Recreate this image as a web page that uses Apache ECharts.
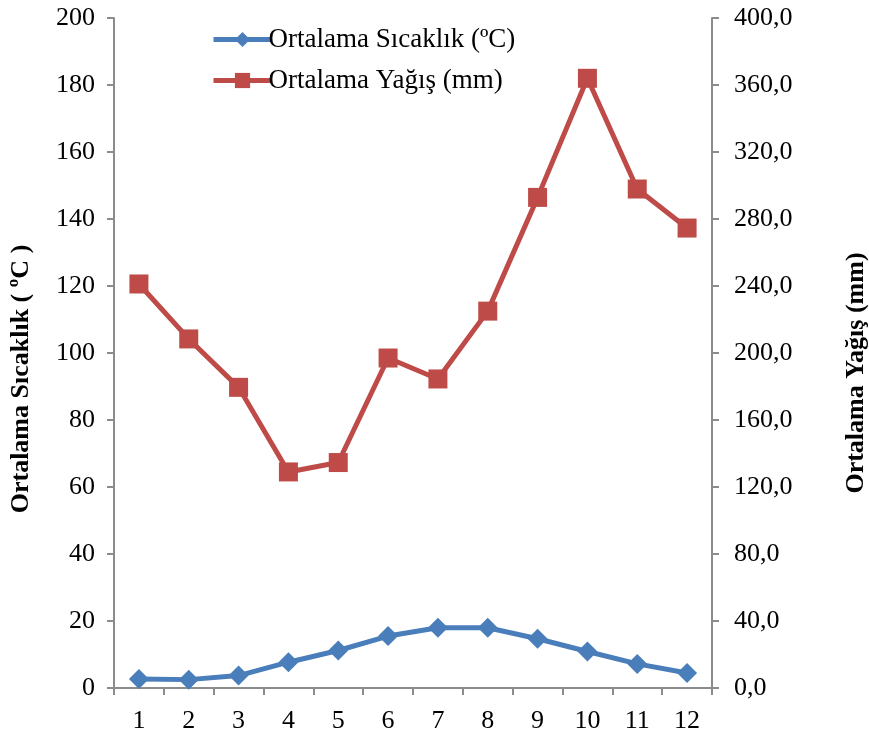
<!DOCTYPE html>
<html>
<head>
<meta charset="utf-8">
<script src="https://cdn.jsdelivr.net/npm/echarts@6/dist/echarts.min.js"></script>
<style>html,body{margin:0;padding:0;background:#fff;}#c{width:869px;height:737px;}</style>
</head>
<body>
<div id="c"></div>
<script>
var months = ['1','2','3','4','5','6','7','8','9','10','11','12'];
var temperature = [2.7, 2.5, 3.7, 7.7, 11.2, 15.5, 18.0, 18.0, 14.7, 10.9, 7.2, 4.5];
var precipitation = [241.2, 208.4, 179.5, 129.0, 134.6, 197.0, 184.5, 225.0, 292.9, 364.0, 297.9, 274.6];
var tempName = 'Ortalama Sıcaklık (ºC)';
var precName = 'Ortalama Yağış (mm)';
var leftTitle = 'Ortalama Sıcaklık ( ºC )';
var rightTitle = 'Ortalama Yağış (mm)';

var font = '"Liberation Serif","Times New Roman",serif';
var axisColor = '#8c8c8c';
var blue = '#4A7EBB', red = '#BE4B48';
var fs = 26;
var chart = echarts.init(document.getElementById('c'));
chart.setOption({
  animation: false,
  backgroundColor: '#fff',
  textStyle: {fontFamily: font},
  grid: {left: 114, right: 157, top: 18, bottom: 49, containLabel: false, outerBoundsMode: 'none'},
  legend: {
    orient: 'vertical', left: 206, top: 21, itemWidth: 58, itemHeight: 19, itemGap: 14,
    textStyle: {fontFamily: font, fontSize: 27, color: '#000', padding: [0,0,0,-8]},
    data: [
      {name: tempName, lineStyle: {width: 5, color: blue}},
      {name: precName, lineStyle: {width: 5, color: red}}
    ]
  },
  xAxis: {
    type: 'category', data: months, boundaryGap: true,
    axisLine: {lineStyle: {color: axisColor, width: 2}},
    axisTick: {show: true, length: 7, lineStyle: {color: axisColor, width: 2}},
    axisLabel: {color: '#000', fontSize: fs, fontFamily: font, margin: 20}
  },
  yAxis: [{
    type: 'value', min: 0, max: 200, interval: 20, position: 'left',
    name: leftTitle, nameLocation: 'middle', nameRotate: 90, nameGap: 80,
    nameTextStyle: {fontFamily: font, fontSize: fs, fontWeight: 'bold', color: '#000', padding: [0, 52, 0, 0]},
    axisLine: {show: true, lineStyle: {color: axisColor, width: 2}},
    axisTick: {show: true, length: 7, inside: false, lineStyle: {color: axisColor, width: 2}},
    splitLine: {show: false},
    axisLabel: {color: '#000', fontSize: fs, fontFamily: font, margin: 19}
  }, {
    type: 'value', min: 0, max: 400, interval: 40, position: 'right',
    name: rightTitle, nameLocation: 'middle', nameRotate: 90, nameGap: 131,
    nameTextStyle: {fontFamily: font, fontSize: fs, fontWeight: 'bold', color: '#000', padding: [0, 40, 0, 0]},
    axisLine: {show: true, lineStyle: {color: axisColor, width: 2}},
    axisTick: {show: true, length: 7, inside: false, lineStyle: {color: axisColor, width: 2}},
    splitLine: {show: false},
    axisLabel: {color: '#000', fontSize: fs, fontFamily: font, margin: 22,
      formatter: function (v) { return v.toFixed(1).replace('.', ','); }}
  }],
  series: [{
    name: tempName, type: 'line', yAxisIndex: 0, data: temperature,
    symbol: 'diamond', symbolSize: 20,
    lineStyle: {color: blue, width: 5},
    itemStyle: {color: blue}
  }, {
    name: precName, type: 'line', yAxisIndex: 1, data: precipitation,
    symbol: 'rect', symbolSize: 19,
    lineStyle: {color: red, width: 5},
    itemStyle: {color: red}
  }]
});
</script>
</body>
</html>
